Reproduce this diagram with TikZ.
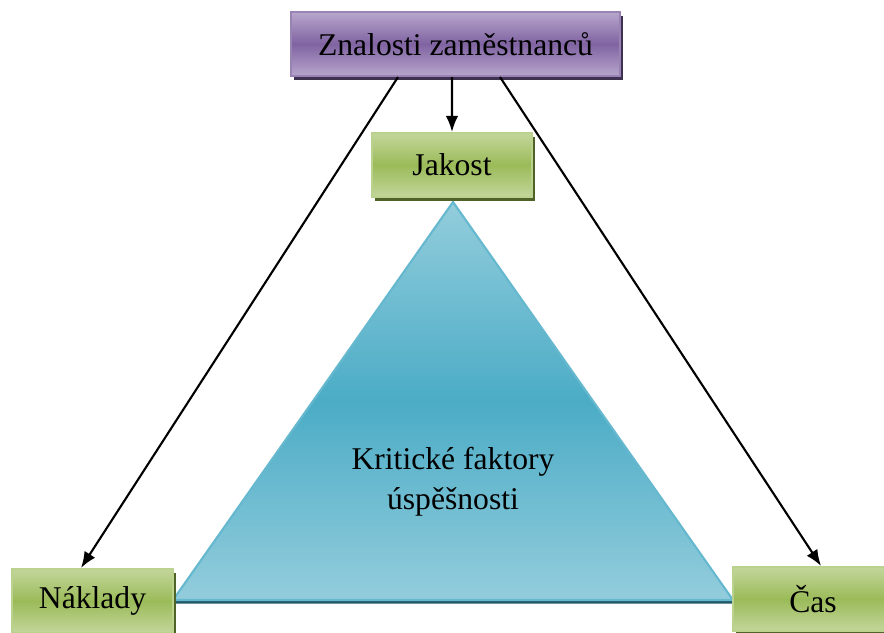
\documentclass[tikz,border=0pt]{standalone}
\usepackage{fontspec}
\setmainfont{Liberation Serif}
\usetikzlibrary{arrows.meta,shadows}

\definecolor{greenlight}{HTML}{C3D69B}
\definecolor{greenmid}{HTML}{9BBB59}
\definecolor{greendark}{HTML}{4F6228}
\definecolor{violetlight}{HTML}{B7A6CC}
\definecolor{violetmid}{HTML}{8064A2}
\definecolor{violetdark}{HTML}{3F3151}
\definecolor{aqualight}{HTML}{93CDDC}
\definecolor{aquamid}{HTML}{4BACC6}
\definecolor{aquadark}{HTML}{215968}

\begin{document}
\begin{tikzpicture}[>={Latex[length=4.6pt,width=3.6pt]}, font=\fontsize{9}{11.5}\selectfont,
  box/.style={rectangle, minimum height=0.64cm, inner sep=0pt, line width=0.6pt},
  greenbox/.style={box, minimum width=1.6cm, draw=greenlight!80!greenmid,
    top color=greenlight, bottom color=greenlight, middle color=greenmid,
    drop shadow={shadow xshift=0.03cm, shadow yshift=-0.04cm, opacity=1, fill=greendark}},
  violetbox/.style={box, minimum width=3.29cm, draw=violetmid!80!white,
    top color=violetlight, bottom color=violetlight, middle color=violetmid,
    drop shadow={shadow xshift=0.03cm, shadow yshift=-0.04cm, opacity=1, fill=violetdark}},
  pyramid/.style={draw=aquamid!85!white, line width=0.6pt,
    top color=aqualight, bottom color=aqualight, middle color=aquamid,
    drop shadow={shadow xshift=0.01cm, shadow yshift=-0.035cm, opacity=1, fill=aquadark}}]
  \useasboundingbox (0,0) rectangle (8.84,6.32);

  % triangle in the middle
  \coordinate (tl) at (1.73,0.32);
  \coordinate (tt) at (4.53,4.30);
  \coordinate (tr) at (7.33,0.32);
  \path[pyramid] (tl) -- (tt) -- (tr) -- cycle;
  \node[align=center] (ksf) at (4.53,1.50) {Kritické faktory\\úspěšnosti};

  \node[violetbox] (zn) at (4.555,5.88) {Znalosti zaměstnanců};
  \node[greenbox] (jak) at (4.52,4.67) {Jakost};
  \node[greenbox, minimum width=1.61cm] (nak) at (0.925,0.31) {Náklady};
  \node[greenbox] (cas) at (8.13,0.33) {Čas};

  \path[->, line width=0.6pt]
    ([xshift=-0.575cm]zn.south) edge ([xshift=-0.115cm]nak.north)
    ([xshift=-0.035cm]zn.south) edge (jak.north)
    ([xshift=0.445cm]zn.south) edge ([xshift=0.08cm]cas.north);
\end{tikzpicture}
\end{document}
